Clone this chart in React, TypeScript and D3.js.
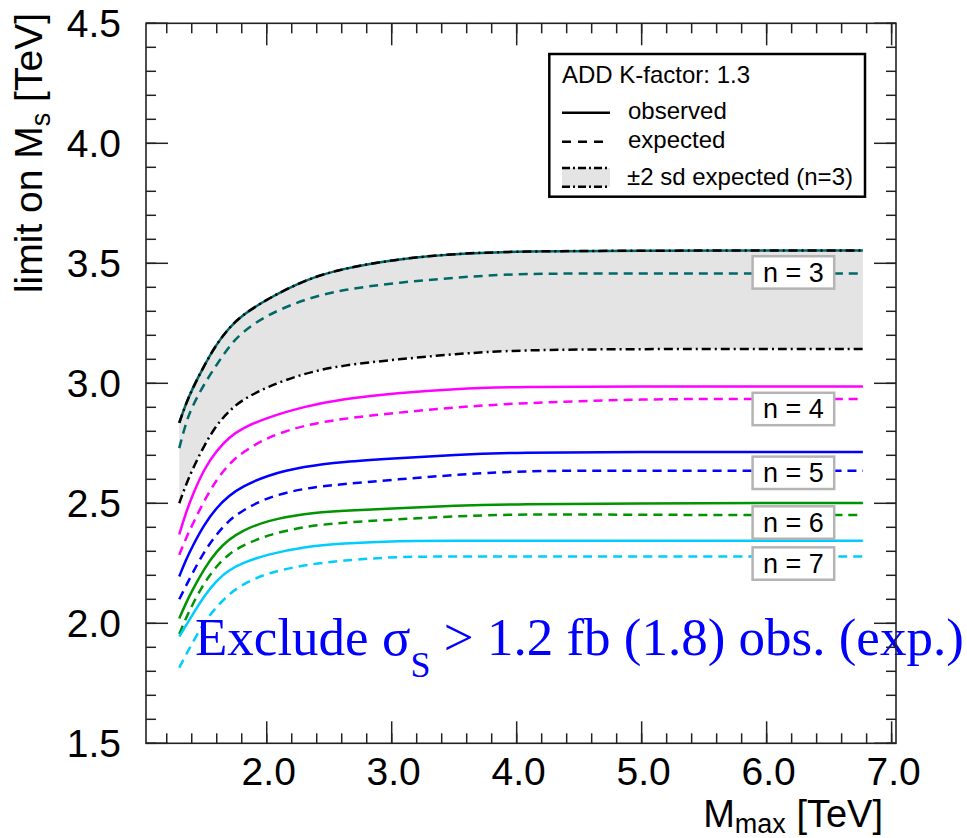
import React from "react";
import * as d3 from "d3";

// ---- data ----
const mass = [1.3, 1.35, 1.4, 1.5, 1.6, 1.7, 1.8, 2.0, 2.3, 2.6, 3.05, 3.5, 4.0, 5.0, 6.0, 6.77];
const bandHigh = [2.835, 2.91, 2.972, 3.075, 3.165, 3.232, 3.283, 3.35, 3.43, 3.478, 3.518, 3.54, 3.55, 3.553, 3.553, 3.553];
const bandLow = [2.5, 2.572, 2.635, 2.742, 2.828, 2.885, 2.93, 2.985, 3.042, 3.075, 3.1, 3.122, 3.139, 3.143, 3.143, 3.143];
const n3Obs = [2.835, 2.91, 2.972, 3.075, 3.165, 3.232, 3.283, 3.35, 3.43, 3.478, 3.518, 3.54, 3.55, 3.553, 3.553, 3.553];
const n3Exp = [2.73, 2.83, 2.9, 2.998, 3.078, 3.155, 3.212, 3.285, 3.35, 3.39, 3.42, 3.44, 3.458, 3.458, 3.458, 3.458];
const n4Obs = [2.37, 2.455, 2.527, 2.645, 2.72, 2.775, 2.812, 2.857, 2.903, 2.935, 2.96, 2.977, 2.986, 2.987, 2.987, 2.987];
const n4Exp = [2.285, 2.35, 2.405, 2.512, 2.6, 2.665, 2.71, 2.775, 2.826, 2.852, 2.878, 2.9, 2.917, 2.935, 2.935, 2.935];
const n5Obs = [2.195, 2.26, 2.315, 2.412, 2.483, 2.533, 2.568, 2.617, 2.654, 2.673, 2.688, 2.702, 2.712, 2.714, 2.714, 2.714];
const n5Exp = [2.1, 2.152, 2.203, 2.3, 2.372, 2.43, 2.468, 2.525, 2.563, 2.58, 2.6, 2.618, 2.636, 2.636, 2.636, 2.636];
const n6Obs = [2.02, 2.08, 2.133, 2.228, 2.302, 2.35, 2.385, 2.428, 2.458, 2.469, 2.48, 2.49, 2.497, 2.5, 2.501, 2.501];
const n6Exp = [1.955, 2.017, 2.072, 2.17, 2.24, 2.29, 2.322, 2.368, 2.403, 2.42, 2.433, 2.446, 2.455, 2.452, 2.451, 2.451];
const n7Obs = [1.945, 1.988, 2.03, 2.115, 2.18, 2.222, 2.25, 2.287, 2.319, 2.333, 2.344, 2.344, 2.344, 2.344, 2.344, 2.344];
const n7Exp = [1.815, 1.865, 1.913, 2.005, 2.07, 2.122, 2.16, 2.21, 2.243, 2.262, 2.278, 2.278, 2.278, 2.278, 2.278, 2.278];

const seriesNames = ["n = 3", "n = 4", "n = 5", "n = 6", "n = 7"];
const seriesColors = ["#006868", "#ff00ff", "#0000ff", "#009400", "#00ccff"];
const observed = [n3Obs, n4Obs, n5Obs, n6Obs, n7Obs];
const expected = [n3Exp, n4Exp, n5Exp, n6Exp, n7Exp];
const labelY = [3.462, 2.893, 2.627, 2.42, 2.249];
const labelX = 6.214;

const xTickValues = [2, 3, 4, 5, 6, 7];
const xTickLabels = ["2.0", "3.0", "4.0", "5.0", "6.0", "7.0"];
const yTickValues = [1.5, 2.0, 2.5, 3.0, 3.5, 4.0, 4.5];
const yTickLabels = ["1.5", "2.0", "2.5", "3.0", "3.5", "4.0", "4.5"];

const legendTitle = "ADD K-factor: 1.3";
const legendEntries = ["observed", "expected", "\u00b12 sd expected (n=3)"];

// ---- layout ----
const W = 967, H = 838;
const L = 146, R = 896, T = 23.3, B = 743.3;
const SANS = "'Liberation Sans', Arial, Helvetica, sans-serif";
const SERIF = "'Liberation Serif', 'Times New Roman', serif";

export default function App() {
  const x = d3.scaleLinear().domain([1.034, 7.035]).range([L, R]);
  const y = d3.scaleLinear().domain([1.5, 4.5]).range([B, T]);
  const curve = d3.curveBasis;

  const line = (vals: number[]) =>
    d3.line<number>().x((_, i) => x(mass[i])).y((v) => y(v)).curve(curve)(vals) || "";
  const area = d3
    .area<number>()
    .x((_, i) => x(mass[i]))
    .y0((_, i) => y(bandLow[i]))
    .y1((_, i) => y(bandHigh[i]))
    .curve(curve);

  const xMinor = d3.range(1.2, 7.01, 0.2).filter((v) => x(v) >= L && x(v) <= R);
  const yMinor = d3.range(1.5, 4.501, 0.1);

  const dashDot = "9,4,2,4";
  const dashed = "9,6";
  const legendFont = 24;

  return (
    <svg width={W} height={H} style={{ position: "absolute", left: 0, top: 0, background: "#fff" }}>
      {/* band */}
      <path d={area(mass) || ""} fill="#e4e4e4" stroke="none" />
      <path d={line(bandLow)} fill="none" stroke="#000" strokeWidth={2.5} strokeDasharray={dashDot} />

      {/* curves */}
      {observed.map((vals, k) => (
        <g key={k}>
          <path d={line(expected[k])} fill="none" stroke={seriesColors[k]} strokeWidth={2.5} strokeDasharray={dashed} />
          <path d={line(vals)} fill="none" stroke={seriesColors[k]} strokeWidth={2.5} />
        </g>
      ))}
      <path d={line(bandHigh)} fill="none" stroke="#000" strokeWidth={2.5} strokeDasharray={dashDot} />

      {/* n labels */}
      {seriesNames.map((name, k) => (
        <g key={name} transform={`translate(${x(labelX)},${y(labelY[k])})`}>
          <rect x={-40.8} y={-16.2} width={81.6} height={32.4} fill="#fff" stroke="#b4b4b4" strokeWidth={2.5} />
          <text x={0} y={9.5} textAnchor="middle" fontFamily={SANS} fontSize={27} fill="#000">
            {name}
          </text>
        </g>
      ))}

      {/* exclusion text */}
      <text x={195} y={655} fontFamily={SERIF} fontSize={53} fill="#0000ff">
        <tspan>Exclude σ</tspan>
        <tspan dy={22} fontSize={36}>S</tspan>
        <tspan dy={-22}> &gt; 1.2 fb (1.8) obs. (exp.)</tspan>
      </text>

      {/* frame */}
      <rect x={L} y={T} width={R - L} height={B - T} fill="none" stroke="#222" strokeWidth={1.6} />

      {/* x ticks */}
      {xMinor.map((v, i) => (
        <g key={"xm" + i}>
          <line x1={x(v)} x2={x(v)} y1={B} y2={B - 10} stroke="#222" strokeWidth={1.5} />
          <line x1={x(v)} x2={x(v)} y1={T} y2={T + 10} stroke="#222" strokeWidth={1.5} />
        </g>
      ))}
      {xTickValues.map((v, i) => (
        <g key={"xM" + i}>
          <line x1={x(v)} x2={x(v)} y1={B} y2={B - 22} stroke="#222" strokeWidth={1.5} />
          <line x1={x(v)} x2={x(v)} y1={T} y2={T + 22} stroke="#222" strokeWidth={1.5} />
          <text x={x(v) + 2} y={785} textAnchor="middle" fontFamily={SANS} fontSize={39} fill="#000">
            {xTickLabels[i]}
          </text>
        </g>
      ))}

      {/* y ticks */}
      {yMinor.map((v, i) => (
        <g key={"ym" + i}>
          <line x1={L} x2={L + 10} y1={y(v)} y2={y(v)} stroke="#222" strokeWidth={1.5} />
          <line x1={R} x2={R - 10} y1={y(v)} y2={y(v)} stroke="#222" strokeWidth={1.5} />
        </g>
      ))}
      {yTickValues.map((v, i) => (
        <g key={"yM" + i}>
          <line x1={L} x2={L + 22} y1={y(v)} y2={y(v)} stroke="#222" strokeWidth={1.5} />
          <line x1={R} x2={R - 22} y1={y(v)} y2={y(v)} stroke="#222" strokeWidth={1.5} />
          <text x={121} y={y(v) + 14} textAnchor="end" fontFamily={SANS} fontSize={39} fill="#000">
            {yTickLabels[i]}
          </text>
        </g>
      ))}

      {/* axis titles */}
      <text x={883} y={827} textAnchor="end" fontFamily={SANS} fontSize={38} fill="#000">
        <tspan>M</tspan>
        <tspan dy={6} fontSize={27}>max</tspan>
        <tspan dy={-6}> [TeV]</tspan>
      </text>
      <text transform="translate(42,13) rotate(-90)" textAnchor="end" fontFamily={SANS} fontSize={39} fill="#000">
        <tspan>limit on M</tspan>
        <tspan dy={8} fontSize={27}>s</tspan>
        <tspan dy={-8}> [TeV]</tspan>
      </text>

      {/* legend */}
      <g>
        <rect x={549.3} y={54} width={315.7} height={142.7} fill="#fff" stroke="#000" strokeWidth={2.5} />
        <text x={562} y={82.5} fontFamily={SANS} fontSize={legendFont} fill="#000">{legendTitle}</text>
        <line x1={562} x2={610} y1={112.7} y2={112.7} stroke="#000" strokeWidth={2.5} />
        <text x={628} y={119} fontFamily={SANS} fontSize={legendFont} fill="#000">{legendEntries[0]}</text>
        <line x1={562} x2={610} y1={141.7} y2={141.7} stroke="#000" strokeWidth={2.5} strokeDasharray="9,7" />
        <text x={628} y={148} fontFamily={SANS} fontSize={legendFont} fill="#000">{legendEntries[1]}</text>
        <rect x={562} y={168} width={48} height={18.7} fill="#e4e4e4" />
        <line x1={562} x2={610} y1={168} y2={168} stroke="#000" strokeWidth={2.5} strokeDasharray="8,3,2,3" />
        <line x1={562} x2={610} y1={186.7} y2={186.7} stroke="#000" strokeWidth={2.5} strokeDasharray="8,3,2,3" />
        <text x={627} y={185} fontFamily={SANS} fontSize={legendFont} fill="#000">{legendEntries[2]}</text>
      </g>
    </svg>
  );
}
